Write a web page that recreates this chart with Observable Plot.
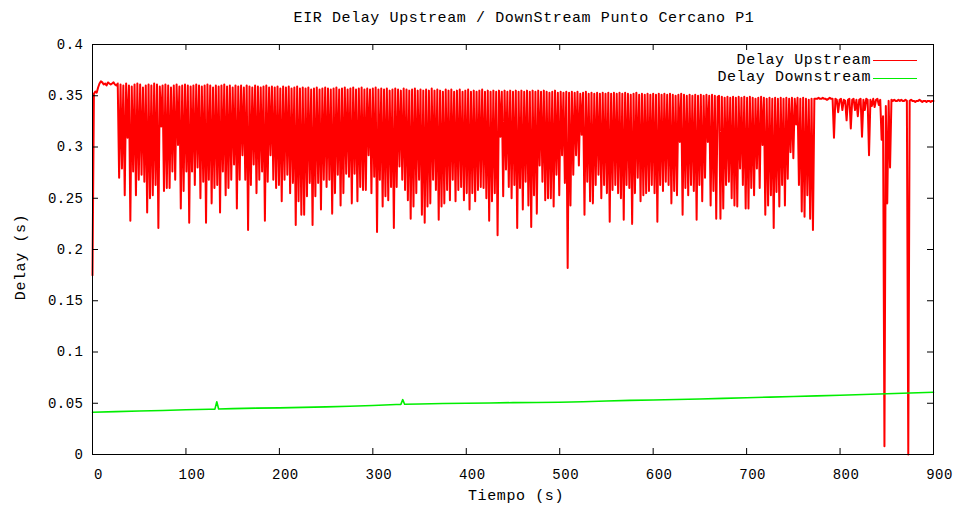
<!DOCTYPE html>
<html>
<head>
<meta charset="utf-8">
<script src="https://cdn.jsdelivr.net/npm/d3@7"></script>
<script src="https://cdn.jsdelivr.net/npm/@observablehq/plot@0.6"></script>
<style>
  html, body { margin: 0; padding: 0; background: #fff; }
  #wrap { position: relative; width: 959px; height: 511px; font-family: "Liberation Mono", "DejaVu Sans Mono", monospace; color: #000; }
  #chart svg text { letter-spacing: 0.5px; }
  .lbl { position: absolute; white-space: nowrap; font-size: 15px; line-height: 20px; letter-spacing: 0.6px; }
  .sw { position: absolute; height: 0; width: 44px; }
</style>
</head>
<body>
<div id="wrap">
  <div id="chart"></div>
  <div class="lbl" id="title" style="left:524px; top:9px; transform:translateX(-50%);"></div>
  <div class="lbl" id="ylabel" style="left:22px; top:257px; transform:translate(-50%,-50%) rotate(-90deg);"></div>
  <div class="lbl" id="xlabel" style="left:516px; top:497px; transform:translate(-50%,-50%);"></div>
  <div class="lbl" id="leg1" style="right:88px; top:51px;"></div>
  <div class="lbl" id="leg2" style="right:88px; top:68px;"></div>
  <div class="sw" id="sw1" style="left:873px; top:60px;"></div>
  <div class="sw" id="sw2" style="left:873px; top:77.5px;"></div>
</div>
<script>
// ---- texts ----
const titleText = "EIR Delay Upstream / DownStream Punto Cercano P1";
const xLabelText = "Tiempo (s)";
const yLabelText = "Delay (s)";
const seriesNames = ["Delay Upstream", "Delay Downstream"];
const seriesColors = ["#ff0000", "#00ee00"];

// ---- ticks ----
const xTicks = [0, 100, 200, 300, 400, 500, 600, 700, 800, 900];
const xTickLabels = ["0", "100", "200", "300", "400", "500", "600", "700", "800", "900"];
const yTicks = [0, 0.05, 0.1, 0.15, 0.2, 0.25, 0.3, 0.35, 0.4];
const yTickLabels = ["0", "0.05", "0.1", "0.15", "0.2", "0.25", "0.3", "0.35", "0.4"];

// ---- Delay Upstream: one sample every 1.5 s from t = 0 (values in s) ----
const upstreamStep = 1.5;
const upstreamDelay = [
  .175,.352,.354,.353,.358,.362,.364,.363,.361,.362,.360,.363,.362,.361,.362,.363,.361,.360,.362,
  .270,.361,.279,.360,.253,.362,.309,.360,.228,.359,
  .276,.361,.253,.362,.268,.361,.273,.358,.266,.360,
  .236,.361,.250,.360,.253,.362,.263,.361,.221,.359,
  .320,.360,.257,.361,.260,.360,.260,.358,.276,.360,
  .268,.361,.302,.359,.240,.360,.257,.361,.276,.360,
  .226,.359,.276,.360,.263,.361,.280,.360,.250,.359,
  .266,.360,.226,.361,.268,.360,.245,.358,.260,.360,
  .263,.359,.236,.360,.276,.361,.253,.359,.260,.360,
  .268,.358,.283,.360,.240,.359,.268,.360,.292,.358,
  .268,.360,.219,.359,.263,.358,.283,.360,.255,.359,
  .268,.358,.276,.359,.228,.360,.266,.358,.292,.359,
  .268,.358,.260,.359,.263,.357,.247,.359,.268,.358,
  .273,.359,.255,.357,.265,.358,.224,.359,.247,.357,
  .234,.358,
  .234,.357,.252,.358,.265,.356,.224,.357,.252,.358,
  .265,.356,.239,.357,.268,.358,.261,.357,.268,.356,
  .235,.357,.255,.358,.273,.356,.243,.357,.255,.358,
  .274,.356,.271,.357,.245,.358,.274,.356,.247,.357,
  .261,.358,.258,.356,.258,.357,.292,.356,.255,.357,
  .271,.358,.217,.356,.268,.357,.242,.356,.252,.357,
  .248,.355,.261,.356,.221,.357,.261,.356,.281,.355,
  .268,.357,.258,.356,.248,.355,.230,.356,.242,.357,
  .255,.355,.268,.356,.234,.355,.226,.356,.242,.355,
  .245,.357,.268,.355,.258,.356,.229,.355,.242,.354,
  .245,.356,.258,.355,.248,.356,.268,.354,.247,.355,
  .258,.356,.261,.354,.248,.355,.255,.356,.239,.354,
  .255,.355,.247,.354,.258,.355,.261,.356,.260,.354,
  .250,.355,.228,.354,.247,.355,.255,.354,.214,.355,
  .310,.354,.252,.355,.278,.354,.261,.355,.250,.354,
  .263,.355,.221,.354,.260,.355,.239,.354,.266,.355,
  .243,.354,.222,.355,.253,.354,.235,.355,.282,.354,
  .266,.355,.248,.354,.250,.353,.250,.354,.242,.355,
  .273,.353,.253,.354,.292,.353,.265,.354,.182,.353,
  .243,.354,.273,.353,.292,.354,.282,.352,.312,.353,
  .234,.354,.266,.352,.247,.353,.245,.352,.263,.353,
  .273,.352,.250,.353,.263,.352,.255,.353,.227,.352,
  .258,.353,.263,.352,.255,.353,.250,.352,.229,.353,
  .263,.352,.260,.351,.225,.352,.255,.353,.270,.351,
  .247,.352,.253,.351,.255,.352,.257,.351,.263,.352,
  .255,.351,.227,.352,.263,.351,.257,.352,.266,.351,
  .263,.352,.245,.351,.257,.350,.253,.351,.305,.352,
  .234,.351,.260,.350,.253,.351,.263,.350,.257,.351,
  .229,.350,.263,.351,.247,.350,.270,.351,.305,.350,
  .243,.351,.257,.350,.230,.349,.350,
  .230,.349,.240,.348,.263,.349,.266,.348,.250,.349,
  .243,.348,.242,.349,.279,.348,.263,.349,.240,.348,
  .240,.349,.260,.348,.253,.347,.279,.348,.260,.349,
  .302,.348,.234,.347,.243,.348,.253,.347,.221,.348,
  .256,.347,.242,.348,.263,.347,.243,.348,.269,.347,
  .295,.348,.289,.347,.322,.348,.263,.347,.237,.348,
  .232,.347,.253,.346,.230,.347,.219,.347,.347,
  .347,.348,.347,.347,.348,.347,.347,.346,.347,.348,
  .347,.347,.309,.347,.346,.334,.346,.347,.336,.346,
  .345,.326,.346,.347,.318,.346,.347,.336,.346,.330,
  .346,.347,.310,.346,.336,.347,.346,.292,.346,.340,
  .347,.339,.346,.347,.341,.346,.307,.330,.008,.340,
  .245,.345,.280,.346,.345,.346,.345,.345,.346,.345,
  .346,.345,.345,.346,.345,.000,.345,.346,.345,.345,
  .344,.345,.345,.346,.345,.344,.345,.345,.344,.345,
  .345,.344,.345,.345
];

// ---- Delay Downstream ----
const downTime  = [0, 25, 50, 75, 100, 125, 131, 133, 135, 150, 175, 200, 225, 250, 275, 300, 325, 330, 332, 334, 350, 375, 400, 425, 450, 475, 500, 525, 550, 575, 600, 625, 650, 675, 700, 725, 750, 775, 800, 825, 850, 875, 900];
const downDelay = [.0412, .0418, .0424, .0430, .0436, .0442, .0443, .0515, .0444, .0448, .0452, .0455, .0460, .0465, .0470, .0478, .0488, .0489, .0535, .0490, .0492, .0497, .0500, .0503, .0506, .0508, .0510, .0515, .0522, .0528, .0532, .0537, .0542, .0548, .0554, .0560, .0566, .0572, .0578, .0585, .0592, .0600, .0607];

// ---- layout ----
const W = 959, H = 511, mL = 92, mR = 26, mT = 44, mB = 57;
const plotW = W - mL - mR, plotH = H - mT - mB, tickLen = 6;

const chart = Plot.plot({
  width: W, height: H,
  marginLeft: mL, marginRight: mR, marginTop: mT, marginBottom: mB,
  x: {domain: [0, 900]},
  y: {domain: [0, 0.4]},
  style: {fontFamily: "'Liberation Mono', 'DejaVu Sans Mono', monospace", fontSize: "14px", background: "#fff", color: "#000"},
  marks: [
    Plot.line(upstreamDelay, {x: (d, i) => i * upstreamStep, y: d => d, stroke: seriesColors[0], strokeWidth: 2}),
    Plot.line(downTime, {x: d => d, y: (d, i) => downDelay[i], stroke: seriesColors[1], strokeWidth: 1.6}),
    Plot.frame({stroke: "#000", strokeWidth: 1}),
    Plot.ruleX(xTicks, {x: d => d, insetTop: plotH - tickLen, stroke: "#000"}),
    Plot.ruleX(xTicks, {x: d => d, insetBottom: plotH - tickLen, stroke: "#000"}),
    Plot.ruleY(yTicks, {y: d => d, insetRight: plotW - tickLen, stroke: "#000"}),
    Plot.ruleY(yTicks, {y: d => d, insetLeft: plotW - tickLen, stroke: "#000"}),
    Plot.axisX(xTicks, {tickSize: 0, tickPadding: 15, dx: 6, label: null, fontSize: 14, tickFormat: d => xTickLabels[xTicks.indexOf(d)]}),
    Plot.axisY(yTicks, {tickSize: 0, tickPadding: 9, label: null, fontSize: 14, tickFormat: d => yTickLabels[yTicks.indexOf(d)]})
  ]
});
document.getElementById("chart").appendChild(chart);

document.getElementById("title").textContent = titleText;
document.getElementById("xlabel").textContent = xLabelText;
document.getElementById("ylabel").textContent = yLabelText;
document.getElementById("leg1").textContent = seriesNames[0];
document.getElementById("leg2").textContent = seriesNames[1];
document.getElementById("sw1").style.borderTop = "1.5px solid " + seriesColors[0];
document.getElementById("sw2").style.borderTop = "1.5px solid " + seriesColors[1];
</script>
</body>
</html>
